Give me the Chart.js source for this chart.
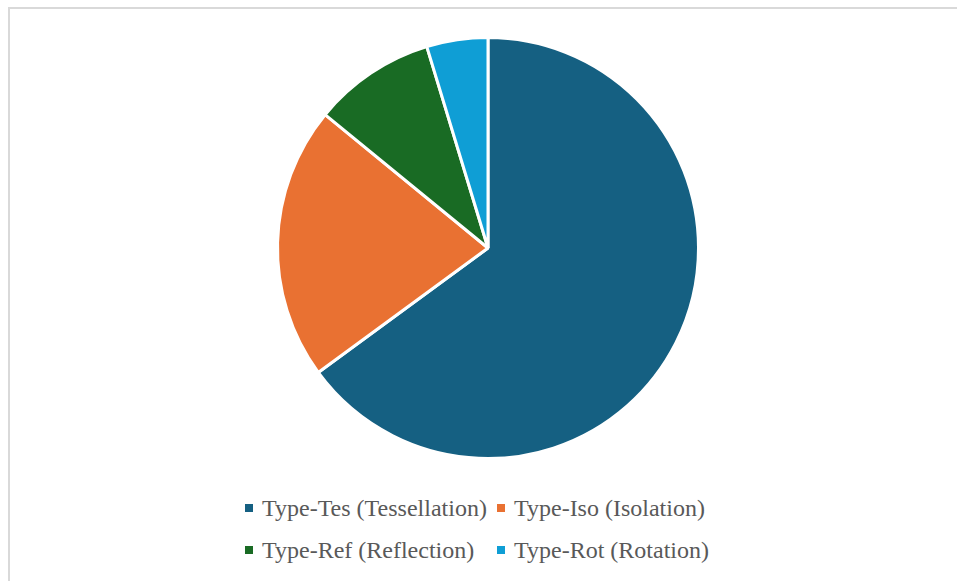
<!DOCTYPE html>
<html>
<head>
<meta charset="utf-8">
<script src="https://cdn.jsdelivr.net/npm/chart.js@4/dist/chart.umd.min.js"></script>
<style>
  html, body { margin: 0; padding: 0; background: #fff; }
  body { width: 957px; height: 581px; position: relative; overflow: hidden; }
  .frame { position: absolute; left: 8px; top: 7px; width: 960px; height: 600px;
           border-top: 2px solid #d9d9d9; border-left: 2px solid #d9d9d9; }
  #pie { position: absolute; left: 0; top: 0; }
  .legend { position: absolute; left: 245px; top: 487px;
            display: grid; grid-template-columns: 252px auto; grid-auto-rows: 42px;
            font-family: "Liberation Serif", "Times New Roman", serif; font-size: 24px; color: #595959; }
  .item { display: flex; align-items: center; white-space: nowrap; }
  .box { width: 8px; height: 8px; margin-right: 9px; flex: none; }
</style>
</head>
<body>
<div class="frame"></div>
<canvas id="pie" width="957" height="470"></canvas>
<div class="legend" id="legend"></div>
<script>
const labels = ['Type-Tes (Tessellation)', 'Type-Iso (Isolation)', 'Type-Ref (Reflection)', 'Type-Rot (Rotation)'];
const values = [65, 21, 9.4, 4.7];
const colors = ['#156082', '#E97132', '#196B24', '#0F9ED5'];

new Chart(document.getElementById('pie'), {
  type: 'pie',
  data: {
    labels: labels,
    datasets: [{
      data: values,
      backgroundColor: colors,
      borderColor: '#ffffff',
      borderWidth: 3
    }]
  },
  options: {
    responsive: false,
    animation: false,
    layout: { padding: { top: 36, bottom: 10, left: 19, right: 0 } },
    plugins: {
      legend: { display: false },
      tooltip: { enabled: false }
    }
  }
});

// legend in two columns, built from the same arrays
const legend = document.getElementById('legend');
labels.forEach((name, i) => {
  const item = document.createElement('span');
  item.className = 'item';
  item.innerHTML = '<span class="box" style="background:' + colors[i] + '"></span>' + name;
  legend.appendChild(item);
});
</script>
</body>
</html>
